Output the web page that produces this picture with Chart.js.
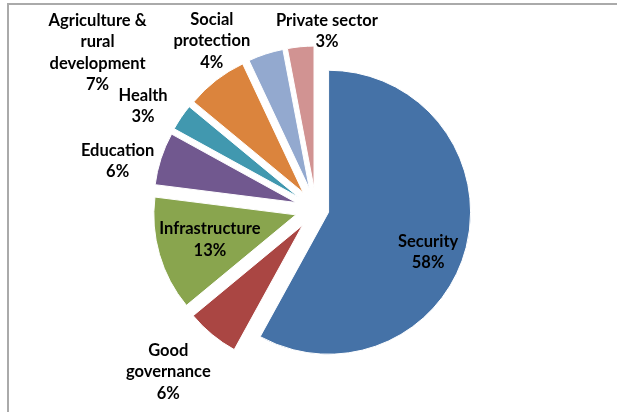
<!DOCTYPE html>
<html>
<head>
<meta charset="utf-8">
<script src="https://cdn.jsdelivr.net/npm/chart.js@4"></script>
<style>
html, body { margin: 0; padding: 0; background: #fff; }
#wrap { position: relative; width: 617px; height: 412px; overflow: hidden; }
#frame { position: absolute; left: 7px; top: 3px; right: -10px; bottom: -10px;
         border-top: 2px solid #aaaaaa; border-left: 2px solid #aaaaaa; pointer-events: none; }
</style>
</head>
<body>
<div id="wrap">
  <canvas id="c" width="617" height="412"></canvas>
  <div id="frame"></div>
</div>
<script>
// Spending by sector, share of total (%)
const categories = [
  ['Security'],
  ['Good', 'governance'],
  ['Infrastructure'],
  ['Education'],
  ['Health'],
  ['Agriculture &', 'rural', 'development'],
  ['Social', 'protection'],
  ['Private sector']
];
const shares = [58, 6, 13, 6, 3, 7, 4, 3];
const sliceColors = ['#4572A7', '#AA4643', '#89A54E', '#71588F', '#4198AF', '#DB843D', '#93A9CF', '#D19392'];

// How far each slice is pulled out from the pie centre (px)
const explodeBy = [13, 21, 21, 21, 21, 21, 21, 21];
// Label anchors, relative to each slice's own centre:
// turn away from the slice's mid-angle (degrees) and distance as a share of the radius
const labelTurn = [7.4, 2.9, 0, -4.9, -3.8, -18, -15.4, 10.1];
const labelDist = [0.755, 1.40, 0.63, 1.29, 1.27, 1.75, 1.25, 1.11];

const LABEL_FONT = 'bold 16.5px Lato, "DejaVu Sans", sans-serif';
const LINE_H = 21.5;

// Moves every arc outward along its bisector
const explodePlugin = {
  id: 'explodeSlices',
  afterDatasetsUpdate(chart) {
    const arcs = chart.getDatasetMeta(0).data;
    arcs.forEach((arc, i) => {
      const mid = (arc.startAngle + arc.endAngle) / 2;
      const d = explodeBy[i] || 0;
      arc.x += Math.cos(mid) * d;
      arc.y += Math.sin(mid) * d;
    });
  }
};

// Category name + percentage for each slice
const labelPlugin = {
  id: 'sliceLabels',
  afterDatasetsDraw(chart) {
    const ctx = chart.ctx;
    const arcs = chart.getDatasetMeta(0).data;
    const values = chart.data.datasets[0].data;
    ctx.save();
    ctx.font = LABEL_FONT;
    ctx.fillStyle = '#000';
    ctx.textAlign = 'center';
    ctx.textBaseline = 'middle';
    arcs.forEach((arc, i) => {
      const mid = (arc.startAngle + arc.endAngle) / 2 + labelTurn[i] * Math.PI / 180;
      const r = arc.outerRadius * labelDist[i];
      const ax = arc.x + Math.cos(mid) * r;
      const ay = arc.y + Math.sin(mid) * r;
      const lines = chart.data.labels[i].concat([values[i] + '%']);
      const y0 = ay - (lines.length - 1) * LINE_H / 2;
      lines.forEach((t, k) => ctx.fillText(t, ax, y0 + k * LINE_H));
    });
    ctx.restore();
  }
};

new Chart(document.getElementById('c'), {
  type: 'pie',
  data: {
    labels: categories,
    datasets: [{
      data: shares,
      backgroundColor: sliceColors,
      borderColor: '#ffffff',
      borderWidth: 1
    }]
  },
  options: {
    responsive: false,
    animation: false,
    events: [],
    radius: 142,
    layout: { padding: { left: 15, right: 0, top: 6, bottom: 0 } },
    plugins: {
      legend: { display: false },
      tooltip: { enabled: false }
    }
  },
  plugins: [explodePlugin, labelPlugin]
});
</script>
</body>
</html>
